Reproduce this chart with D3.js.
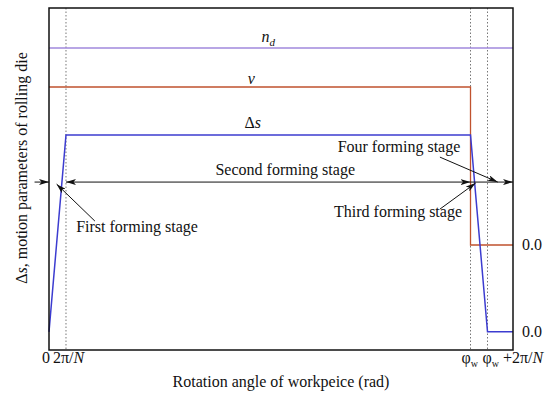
<!DOCTYPE html>
<html>
<head>
<meta charset="utf-8">
<script src="https://cdnjs.cloudflare.com/ajax/libs/d3/7.8.5/d3.min.js"></script>
</head>
<body style="margin:0">
<svg id="chart" width="550" height="394"></svg>
<script>
// x in units of 2π/N, y in arbitrary units (0..100)
var X_END = 27.3;
var PHI_W = 24.8;
var STEP = 1; // 2π/N
var ndLine = [[0, 88.3], [X_END, 88.3]];
var vLine = [[0, 76.9], [PHI_W, 76.9], [PHI_W, 30.7], [X_END, 30.7]];
var dsLine = [[0, 5.3], [STEP, 62.9], [PHI_W, 62.9], [PHI_W + STEP, 5.3], [X_END, 5.3]];
var guideX = [STEP, PHI_W, PHI_W + STEP];
var ARROW_Y = 49.1;
var zeroLabels = [30.7, 5.3];

var FONT = "Liberation Serif";
var svg = d3.select("#chart");
var margin = { left: 49, right: 37, top: 8, bottom: 44 };
var W = +svg.attr("width"), H = +svg.attr("height");

var x = d3.scaleLinear().domain([0, X_END]).range([margin.left, W - margin.right]);
var y = d3.scaleLinear().domain([0, 100]).range([H - margin.bottom, margin.top]);

function label(px, py) {
    return svg.append("text")
        .attr("x", px).attr("y", py)
        .attr("font-family", FONT)
        .attr("font-size", 16)
        .attr("fill", "#111");
}

var defs = svg.append("defs");
defs.append("marker")
    .attr("id", "arr")
    .attr("viewBox", "0 0 10 6")
    .attr("refX", 10).attr("refY", 3)
    .attr("markerWidth", 10).attr("markerHeight", 6)
    .attr("markerUnits", "userSpaceOnUse")
    .attr("orient", "auto-start-reverse")
    .append("path")
    .attr("d", "M0,0 L10,3 L0,6 L2.5,3 Z")
    .attr("fill", "#111");

// dotted guides
svg.selectAll("line.guide")
    .data(guideX)
    .enter().append("line")
    .attr("class", "guide")
    .attr("x1", function (d) { return x(d); })
    .attr("x2", function (d) { return x(d); })
    .attr("y1", y(100)).attr("y2", H - margin.bottom)
    .attr("stroke", "#777").attr("stroke-width", 1)
    .attr("stroke-dasharray", "1.5,2");

var line = d3.line()
    .x(function (d) { return x(d[0]); })
    .y(function (d) { return y(d[1]); });

svg.append("path").datum(ndLine).attr("d", line)
    .attr("fill", "none").attr("stroke", "#a088dc").attr("stroke-width", 1.5);
svg.append("path").datum(vLine).attr("d", line)
    .attr("fill", "none").attr("stroke", "#c0522e").attr("stroke-width", 1.3);
svg.append("path").datum(dsLine).attr("d", line)
    .attr("fill", "none").attr("stroke", "#3c3cd0").attr("stroke-width", 1.5);

// curve labels
var t1 = label(x(12.5), y(ndLine[0][1]) - 6).attr("font-style", "italic");
t1.append("tspan").text("n");
t1.append("tspan").attr("dy", 4).attr("font-size", 11).text("d");
label(x(11.7), y(vLine[0][1]) - 3).attr("font-style", "italic").text("v");
var t3 = label(x(11.5), y(dsLine[1][1]) - 7);
t3.append("tspan").text("Δ");
t3.append("tspan").attr("font-style", "italic").text("s");

// stage arrows on the horizontal line
var ya = y(ARROW_Y);
svg.append("line").attr("x1", x(-0.85)).attr("x2", x(0)).attr("y1", ya).attr("y2", ya)
    .attr("stroke", "#111").attr("stroke-width", 1).attr("marker-end", "url(#arr)");
svg.append("line").attr("x1", x(STEP)).attr("x2", x(PHI_W)).attr("y1", ya).attr("y2", ya)
    .attr("stroke", "#111").attr("stroke-width", 1)
    .attr("marker-start", "url(#arr)").attr("marker-end", "url(#arr)");
svg.append("line").attr("x1", x(PHI_W)).attr("x2", x(X_END)).attr("y1", ya).attr("y2", ya)
    .attr("stroke", "#111").attr("stroke-width", 1).attr("marker-end", "url(#arr)");

// leaders: [tail x, tail y, tip x, tip y]
var leaders = [
    [2.7, 37.7, 0.45, 48.5],
    [23.0, 41.2, 25.1, 48.8],
    [23.0, 56.4, 26.4, ARROW_Y]
];
svg.selectAll("line.leader")
    .data(leaders)
    .enter().append("line")
    .attr("class", "leader")
    .attr("x1", function (d) { return x(d[0]); })
    .attr("y1", function (d) { return y(d[1]); })
    .attr("x2", function (d) { return x(d[2]); })
    .attr("y2", function (d) { return y(d[3]); })
    .attr("stroke", "#111").attr("stroke-width", 1)
    .attr("marker-end", "url(#arr)");

label(x(13.9), y(51.2)).attr("text-anchor", "middle").text("Second forming stage");
label(x(1.6), y(34.5)).text("First forming stage");
label(x(24.3), y(38.9)).attr("text-anchor", "end").text("Third forming stage");
label(x(24.2), y(57.9)).attr("text-anchor", "end").text("Four forming stage");

// right-side 0.0 labels
zeroLabels.forEach(function (d) {
    label(x(X_END) + 9, y(d) + 5).text("0.0");
});

// frame
svg.append("rect")
    .attr("x", x(0)).attr("y", margin.top)
    .attr("width", x(X_END) - x(0)).attr("height", H - margin.bottom - margin.top)
    .attr("fill", "none").attr("stroke", "#111").attr("stroke-width", 1.5);

// x tick labels
var ty = H - margin.bottom + 13;
label(x(0) - 3, ty).attr("text-anchor", "middle").text("0");
var l1 = label(x(STEP) - 13, ty);
l1.append("tspan").text("2π/");
l1.append("tspan").attr("font-style", "italic").text("N");
var l2 = label(x(PHI_W) - 9, ty);
l2.append("tspan").text("φ");
l2.append("tspan").attr("dy", 4).attr("font-size", 10).text("w");
var l3 = label(x(PHI_W + STEP) - 5, ty);
l3.append("tspan").text("φ");
l3.append("tspan").attr("dy", 4).attr("font-size", 10).text("w");
l3.append("tspan").attr("dy", -4).text(" +2π/");
l3.append("tspan").attr("font-style", "italic").text("N");

// axis titles
label((x(0) + x(X_END)) / 2, H - 7)
    .attr("text-anchor", "middle")
    .text("Rotation angle of workpeice (rad)");
var yt = label(0, 0)
    .attr("transform", "translate(27,168) rotate(-90)")
    .attr("text-anchor", "middle");
yt.append("tspan").text("Δ");
yt.append("tspan").attr("font-style", "italic").text("s");
yt.append("tspan").text(", motion parameters of rolling die");
</script>
</body>
</html>
